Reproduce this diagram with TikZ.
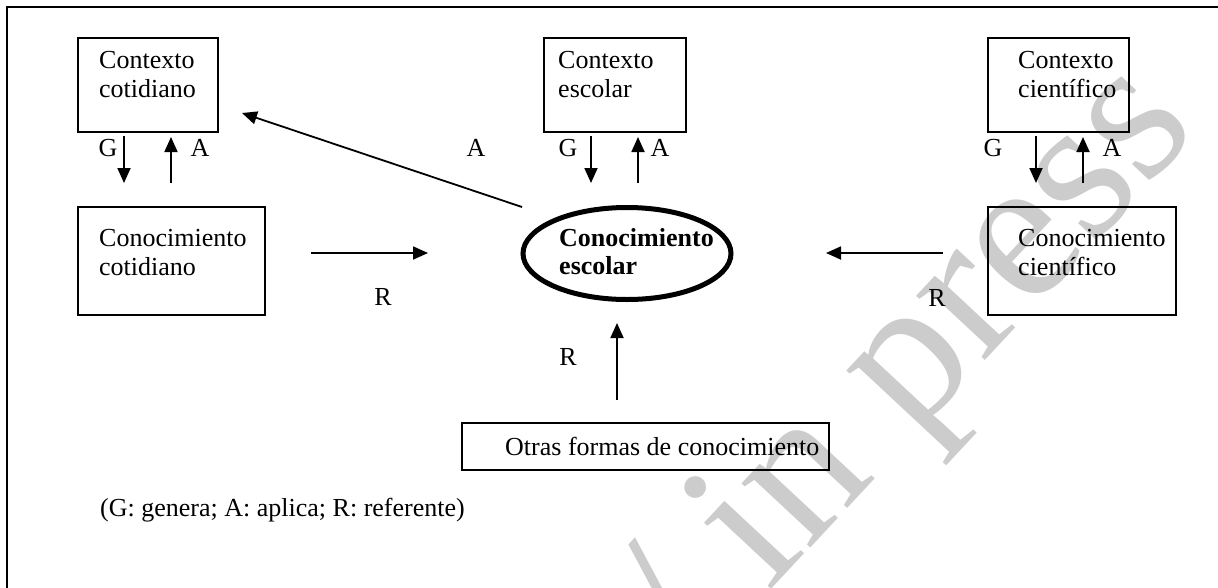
\documentclass[tikz,border=0pt]{standalone}
\usepackage{fontspec}
\setmainfont{Liberation Serif}
\usetikzlibrary{arrows.meta,shapes.geometric}
\begin{document}
\begin{tikzpicture}[x=1pt,y=-1pt,
  box/.style={draw, line width=2pt, inner sep=0pt, rectangle},
  txt/.style={anchor=base west, inner sep=0pt, font=\fontsize{26}{30}\selectfont},
  lbl/.style={inner sep=0pt, font=\fontsize{26}{30}\selectfont},
  arr/.style={line width=1.8pt, -{Triangle[length=15pt,width=13pt]}},
]
\useasboundingbox (0,0) rectangle (1218,587);
% watermark
\node[rotate=47, anchor=base west, inner sep=0pt, text=black!20,
  font=\fontsize{205}{205}\selectfont] (wm) at (695,672) {/ in press};
% frame
\draw[line width=2pt] (7,600) -- (7,7) -- (1230,7);
% boxes
\node[box, minimum width=140pt, minimum height=94pt] (cc) at (148,85) {};
\node[box, minimum width=187pt, minimum height=108pt] (kc) at (171.5,261) {};
\node[box, minimum width=142pt, minimum height=94pt] (ce) at (615,85) {};
\node[box, minimum width=141pt, minimum height=94pt] (cs) at (1058.5,85) {};
\node[box, minimum width=188pt, minimum height=108pt] (ks) at (1082,261) {};
\node[box, minimum width=367pt, minimum height=47pt] (of) at (645.5,446.5) {};
\node[draw, ellipse, line width=5pt, inner sep=0pt, minimum width=208pt, minimum height=92pt] (ke) at (627,253.5) {};
% box texts
\node[txt] (cc1) at (99,68) {Contexto};
\node[txt] (cc2) at (99,97) {cotidiano};
\node[txt] (kc1) at (99,246) {Conocimiento};
\node[txt] (kc2) at (99,275) {cotidiano};
\node[txt] (ce1) at (558,68) {Contexto};
\node[txt] (ce2) at (558,97) {escolar};
\node[txt] (cs1) at (1018,68) {Contexto};
\node[txt] (cs2) at (1018,97) {científico};
\node[txt] (ks1) at (1018,246) {Conocimiento};
\node[txt] (ks2) at (1018,275) {científico};
\node[txt, font=\fontsize{26}{30}\selectfont\bfseries] (ke1) at (559,246) {Conocimiento};
\node[txt, font=\fontsize{26}{30}\selectfont\bfseries] (ke2) at (559,274) {escolar};
\node[txt] (oft) at (505,455) {Otras formas de conocimiento};
\node[txt] (leg) at (100,516) {(G: genera; A: aplica; R: referente)};
% arrow end points
\coordinate (g1s) at (124,136); \coordinate (g1e) at (124,183);
\coordinate (a1s) at (171,183); \coordinate (a1e) at (171,137);
\coordinate (g2s) at (591,136); \coordinate (g2e) at (591,183);
\coordinate (a2s) at (638,183); \coordinate (a2e) at (638,137);
\coordinate (g3s) at (1036,136); \coordinate (g3e) at (1036,183);
\coordinate (a3s) at (1083,183); \coordinate (a3e) at (1083,137);
\coordinate (rcs) at (311,253); \coordinate (rce) at (428,253);
\coordinate (rks) at (943,253); \coordinate (rke) at (826,253);
\coordinate (das) at (522,207); \coordinate (dae) at (242,113);
\coordinate (ros) at (617,400); \coordinate (roe) at (617,323);
% arrows
\draw[arr] (g1s) -- (g1e);
\draw[arr] (a1s) -- (a1e);
\draw[arr] (g2s) -- (g2e);
\draw[arr] (a2s) -- (a2e);
\draw[arr] (g3s) -- (g3e);
\draw[arr] (a3s) -- (a3e);
\draw[arr] (rcs) -- (rce);
\draw[arr] (rks) -- (rke);
\draw[arr] (das) -- (dae);
\draw[arr] (ros) -- (roe);
% arrow labels
\node[lbl] (lg1) at (108,148) {G};
\node[lbl] (la1) at (200,148) {A};
\node[lbl] (lad) at (476,148) {A};
\node[lbl] (lg2) at (568,148) {G};
\node[lbl] (la2) at (660,148) {A};
\node[lbl] (lg3) at (993,148) {G};
\node[lbl] (la3) at (1112,148) {A};
\node[lbl] (lr1) at (383,297) {R};
\node[lbl] (lr2) at (937,298) {R};
\node[lbl] (lr3) at (568,357) {R};
\end{tikzpicture}
\end{document}
